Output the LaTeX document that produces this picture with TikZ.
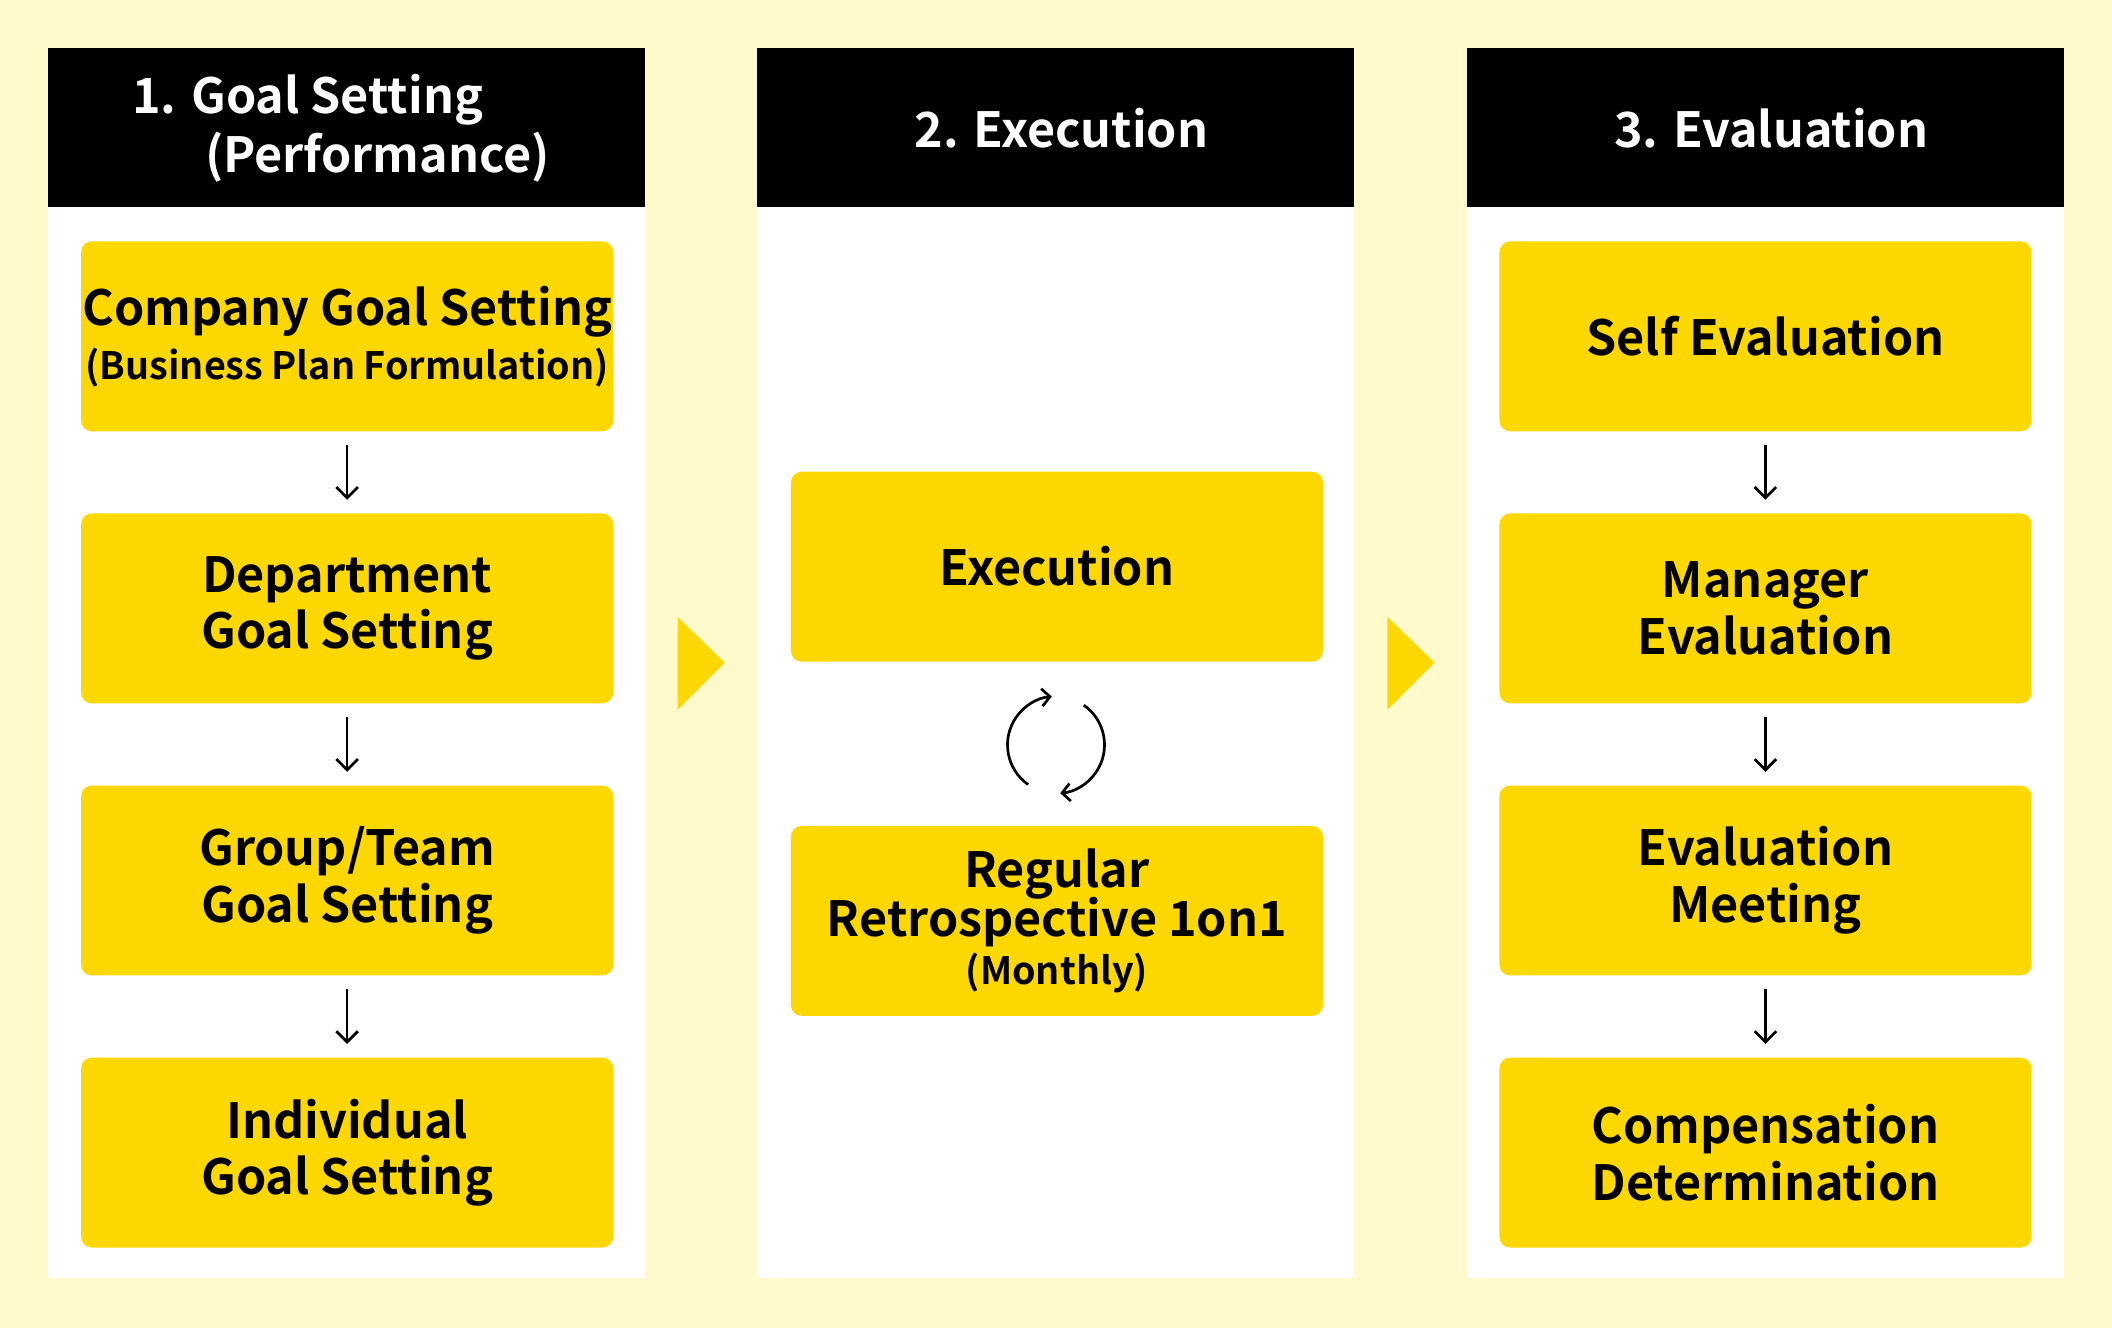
\documentclass[tikz,border=0pt]{standalone}
\usepackage{fontspec}
\setmainfont{Noto Sans CJK KR}[BoldFont={* Bold}]
\newfontfamily\lightfont{Noto Sans CJK KR Light}
\newcommand\subtxt[1]{{\lightfont\fontsize{28}{32}\selectfont #1}}
\usetikzlibrary{arrows.meta}
\definecolor{bg}{HTML}{FFF9CC}
\definecolor{yel}{HTML}{FDD800}
\begin{document}
\begin{tikzpicture}[x=1pt,y=-1pt,
 htext/.style={text=white,font=\fontsize{36}{40}\selectfont\bfseries,inner sep=0},
 box/.style={fill=yel,draw=none,rounded corners=8pt,minimum width=395pt,minimum height=141pt,anchor=north west,align=center,font=\fontsize{36}{42}\selectfont\bfseries,inner sep=0},
 dn/.style={-{Straight Barb[length=8pt,width=16pt]},line width=2pt},
 chev/.style={fill=yel,draw=none}]
\fill[bg] (0,0) rectangle (1568,986);
\useasboundingbox (0,0) rectangle (1568,986);
\foreach \x in {36,562,1089}{
 \fill[white] (\x,36) rectangle (\x+443,949);
 \fill[black] (\x,36) rectangle (\x+443,154);}
\node[htext,anchor=west] (h1a) at (98,74) {1. Goal Setting};
\node[htext,anchor=west] (h1b) at (152,117) {(Performance)};
\node[htext] (h2) at (788,95) {2. Execution};
\node[htext] (h3) at (1315,95) {3. Evaluation};
\node[box] (a1) at (60,179) {Company Goal Setting\\[-2pt]\subtxt{(Business Plan Formulation)}};
\node[box] (a2) at (60,381) {Department\\Goal Setting};
\node[box] (a3) at (60,583) {Group/Team\\Goal Setting};
\node[box] (a4) at (60,785) {Individual\\Goal Setting};
\node[box] (b1) at (587,350) {Execution};
\node[box] (b2) at (587,613) {Regular\\[-6pt]Retrospective 1on1\\[-6pt]\subtxt{(Monthly)}};
\node[box] (c1) at (1113,179) {Self Evaluation};
\node[box] (c2) at (1113,381) {Manager\\Evaluation};
\node[box] (c3) at (1113,583) {Evaluation\\Meeting};
\node[box] (c4) at (1113,785) {Compensation\\Determination};
\foreach \p/\q in {a1/a2,a2/a3,a3/a4,c1/c2,c2/c3,c3/c4}
 \draw[dn] ([yshift=-10pt]\p.south) -- ([yshift=10pt]\q.north);
\fill[chev] (503,458) -- (538,492) -- (503,527) -- cycle;
\fill[chev] (1030,458) -- (1065,492) -- (1030,527) -- cycle;
\coordinate (cyc) at (784,553);
\begin{scope}[shift={(cyc)},yscale=-1,line width=2pt]
 \draw[-{Straight Barb[length=6pt,width=13pt]}] (235:36) arc[start angle=235,end angle=95,radius=36];
 \draw[-{Straight Barb[length=6pt,width=13pt]}] (55:36) arc[start angle=55,end angle=-85,radius=36];
\end{scope}
\end{tikzpicture}
\end{document}
